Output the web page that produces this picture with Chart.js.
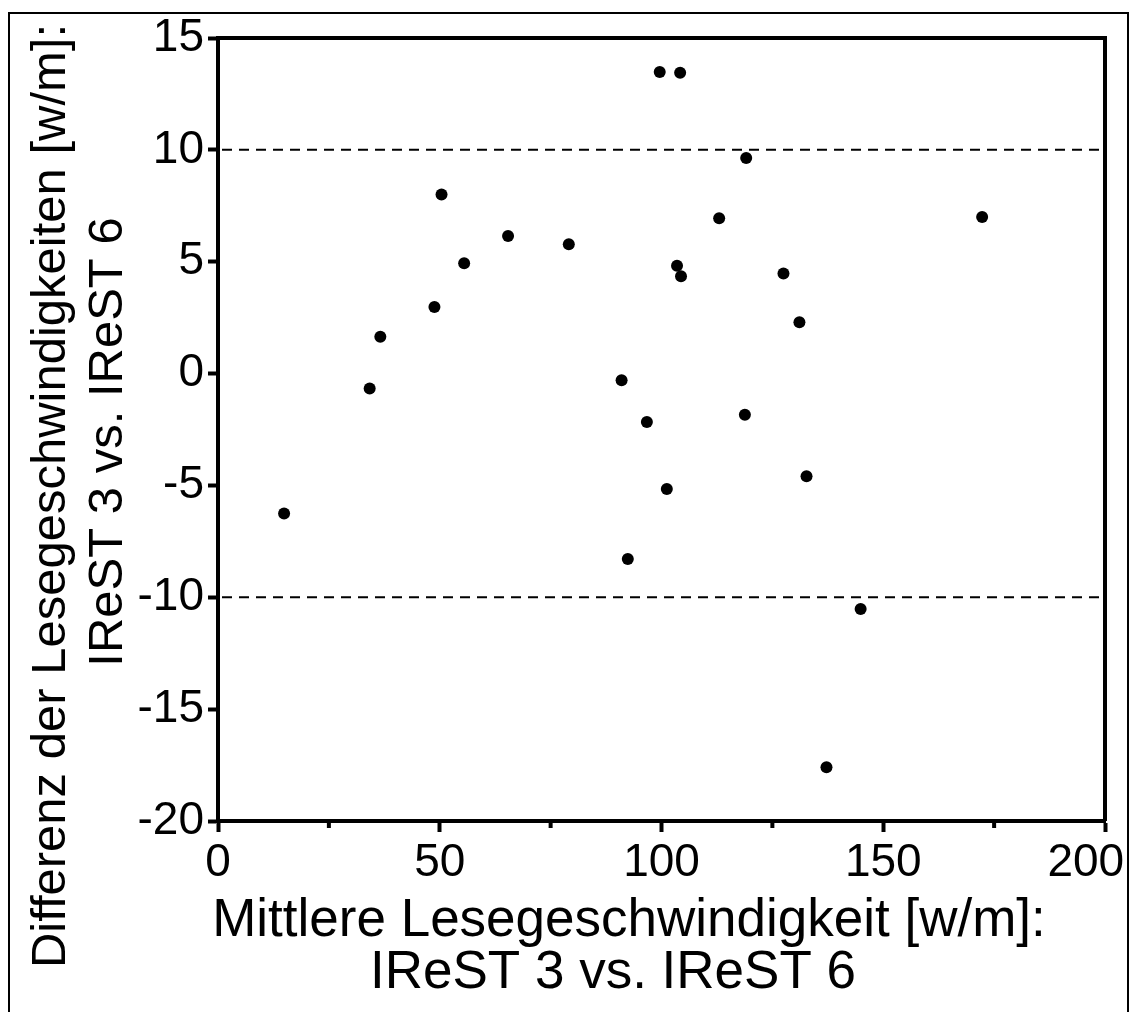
<!DOCTYPE html>
<html lang="de">
<head>
    <meta charset="UTF-8">
    <title>IReST 3 vs. IReST 6 - Differenz der Lesegeschwindigkeiten</title>
    <style>
        body { margin: 0; background: #fff; }
        #wrap { position: relative; width: 1130px; height: 1012px; overflow: hidden; }
        #frame { position: absolute; left: 8px; top: 12px; width: 1117px; height: 1100px; border: 2px solid #000; }
        #chart { position: absolute; left: 0; top: 0; }
    </style>
</head>
<body>
<div id="wrap">
    <div id="frame"></div>
    <canvas id="chart" width="1130" height="1012"></canvas>
</div>

<script src="https://cdn.jsdelivr.net/npm/chart.js"></script>
<script>
    // mean reading speed (x) and difference (y)
    const meanSpeed = [14.9, 34.2, 36.6, 48.8, 50.4, 55.5, 65.4, 79.1, 91.0, 92.4, 96.7, 99.6, 101.2,
                       103.5, 104.2, 104.4, 113.0, 118.8, 119.1, 127.5, 131.1, 132.7, 137.2, 144.9, 172.3];
    const diffSpeed = [-6.25, -0.67, 1.65, 2.98, 8.0, 4.93, 6.15, 5.78, -0.30, -8.29, -2.16, 13.48, -5.16,
                       4.82, 13.45, 4.35, 6.94, -1.84, 9.64, 4.47, 2.29, -4.59, -17.6, -10.52, 7.0];

    const xTicks = [0, 50, 100, 150, 200];
    const xMinorTicks = [25, 75, 125, 175];
    const yTicks = [-20, -15, -10, -5, 0, 5, 10, 15];
    const limitLines = [10, -10];

    const xTitle = ['Mittlere Lesegeschwindigkeit [w/m]:', 'IReST 3 vs. IReST 6'];
    const yTitle = ['Differenz der Lesegeschwindigkeiten [w/m]:', 'IReST 3 vs. IReST 6'];

    const FONT = "'Liberation Sans', Arial, sans-serif";

    const extras = {
        id: 'extras',
        beforeDatasetsDraw(chart) {
            const { ctx, chartArea: a, scales: { x, y } } = chart;
            ctx.save();
            ctx.strokeStyle = '#000';
            // dashed limit lines
            ctx.lineWidth = 2;
            ctx.setLineDash([10, 7]);
            limitLines.forEach(v => {
                const py = y.getPixelForValue(v);
                ctx.beginPath();
                ctx.moveTo(a.left + 4, py);
                ctx.lineTo(a.right - 6, py);
                ctx.stroke();
            });
            ctx.setLineDash([]);
            // minor ticks on x
            ctx.lineWidth = 4;
            xMinorTicks.forEach(v => {
                const px = x.getPixelForValue(v);
                ctx.beginPath();
                ctx.moveTo(px, a.bottom);
                ctx.lineTo(px, a.bottom + 7);
                ctx.stroke();
            });
            // top + right frame of plot
            ctx.beginPath();
            ctx.moveTo(a.left, a.top);
            ctx.lineTo(a.right, a.top);
            ctx.lineTo(a.right, a.bottom);
            ctx.stroke();
            ctx.restore();
        },
        afterDraw(chart) {
            const { ctx } = chart;
            ctx.save();
            ctx.fillStyle = '#000';
            ctx.textAlign = 'center';
            ctx.textBaseline = 'alphabetic';
            ctx.font = '53px ' + FONT;
            ctx.fillText(xTitle[0], 629, 936);
            ctx.fillText(xTitle[1], 613, 988);
            ctx.rotate(-Math.PI / 2);
            ctx.font = '49px ' + FONT;
            ctx.fillText(yTitle[0], -496, 65);
            ctx.fillText(yTitle[1], -442, 122);
            ctx.restore();
        }
    };

    new Chart(document.getElementById('chart'), {
        type: 'scatter',
        data: {
            datasets: [{
                label: 'Differenz',
                data: meanSpeed.map((m, i) => ({ x: m, y: diffSpeed[i] })),
                backgroundColor: '#000',
                borderWidth: 0,
                pointRadius: 6,
                pointHoverRadius: 6
            }]
        },
        options: {
            responsive: false,
            animation: false,
            devicePixelRatio: 1,
            layout: { padding: { top: 38, right: 25, left: 0, bottom: 0 } },
            plugins: { legend: { display: false }, tooltip: { enabled: false } },
            scales: {
                x: {
                    type: 'linear',
                    min: 0,
                    max: 200,
                    afterBuildTicks: s => { s.ticks = xTicks.map(v => ({ value: v })); },
                    afterFit: s => { s.height = 191; s.paddingLeft = 0; s.paddingRight = 0; },
                    ticks: {
                        color: '#000', font: { family: FONT, size: 46 }, padding: 4, maxRotation: 0,
                        // last label pulled inwards like in the original
                        callback: v => v === 200 ? v + '   ' : String(v)
                    },
                    grid: { drawOnChartArea: false, drawTicks: true, tickLength: 11, tickWidth: 4, tickColor: '#000' },
                    border: { display: true, width: 4, color: '#000' }
                },
                y: {
                    type: 'linear',
                    min: -20,
                    max: 15,
                    afterBuildTicks: s => { s.ticks = yTicks.map(v => ({ value: v })); },
                    afterFit: s => { s.width = 218; },
                    ticks: { color: '#000', font: { family: FONT, size: 46 }, padding: 4 },
                    grid: { drawOnChartArea: false, drawTicks: true, tickLength: 10, tickWidth: 4, tickColor: '#000' },
                    border: { display: true, width: 4, color: '#000' }
                }
            }
        },
        plugins: [extras]
    });
</script>
</body>
</html>
